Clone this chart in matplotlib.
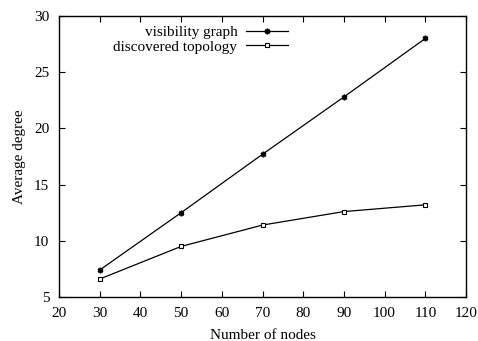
import matplotlib.pyplot as plt

plt.rcParams['font.family'] = ['Liberation Serif', 'DejaVu Serif']
plt.rcParams['font.size'] = 11

nodes = [30, 50, 70, 90, 110]
visibility = [7.4, 12.5, 17.7, 22.8, 28.0]
discovered = [6.6, 9.5, 11.4, 12.6, 13.2]

fig = plt.figure(figsize=(4.78, 3.41), dpi=100)
ax = fig.add_axes([59 / 478, 44 / 341, 407 / 478, 281 / 341])

ax.plot(nodes, visibility, color='black', lw=0.9, marker=(6, 2, 0), ms=4,
        mew=1.2, label='visibility graph')
ax.plot(nodes, discovered, color='black', lw=0.9, marker='s', ms=3.5,
        mfc='white', mew=0.8, label='discovered topology')

ax.set_xlim(20, 120)
ax.set_ylim(5, 30)
ax.set_xticks(range(20, 121, 10))
ax.set_yticks(range(5, 31, 5))
ax.tick_params(direction='in', top=True, right=True, length=4, width=0.8)
ax.tick_params(axis='x', pad=7)
ax.tick_params(axis='y', pad=7)
for s in ax.spines.values():
    s.set_linewidth(1.0)

ax.set_xlabel('Number of nodes', labelpad=7)
ax.set_ylabel('Average degree', labelpad=6)

ax.legend(loc='upper right', bbox_to_anchor=(0.592, 1.01), frameon=False,
          markerfirst=False, handlelength=2.7, handletextpad=0.6,
          labelspacing=0.05, borderpad=0.3)

fig.savefig('out.png', dpi=100)
